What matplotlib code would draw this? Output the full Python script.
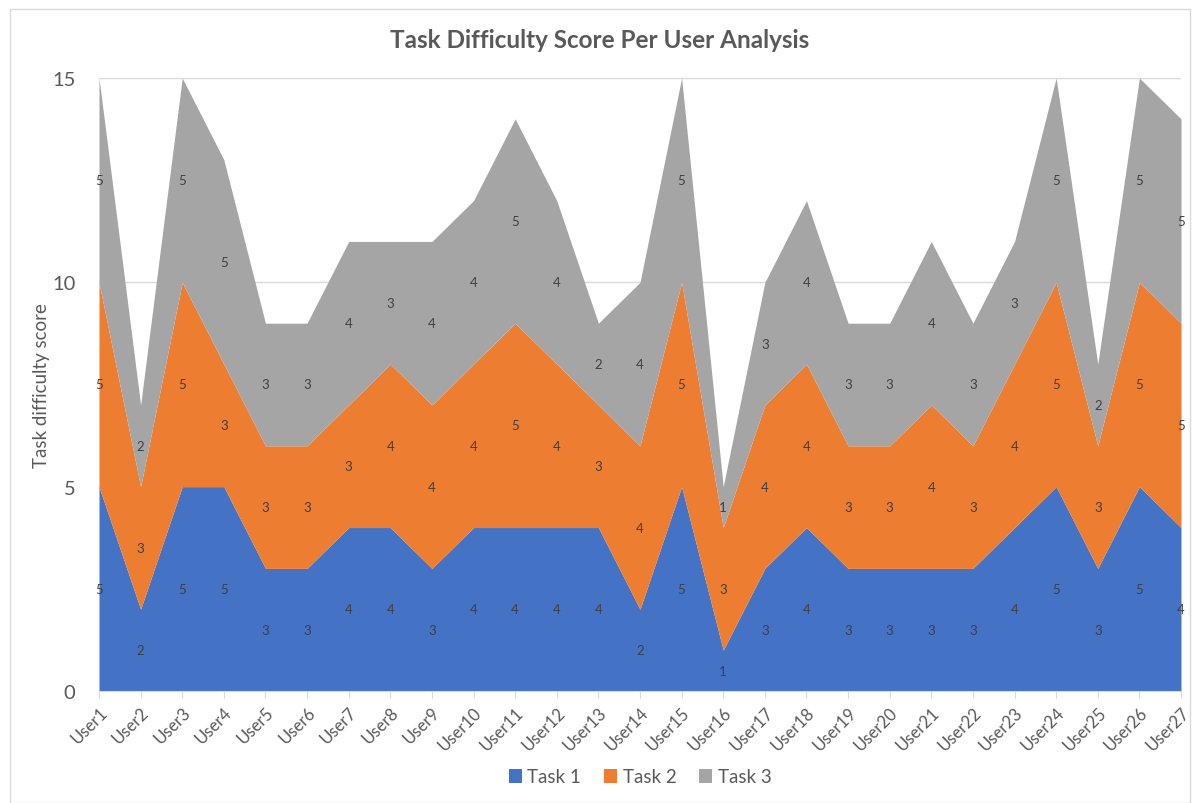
import matplotlib.pyplot as plt
import numpy as np
from matplotlib.patches import Rectangle

users = ["User%d" % i for i in range(1, 28)]
task1 = [5, 2, 5, 5, 3, 3, 4, 4, 3, 4, 4, 4, 4, 2, 5, 1, 3, 4, 3, 3, 3, 3, 4, 5, 3, 5, 4]
task2 = [5, 3, 5, 3, 3, 3, 3, 4, 4, 4, 5, 4, 3, 4, 5, 3, 4, 4, 3, 3, 4, 3, 4, 5, 3, 5, 5]
task3 = [5, 2, 5, 5, 3, 3, 4, 3, 4, 4, 5, 4, 2, 4, 5, 1, 3, 4, 3, 3, 4, 3, 3, 5, 2, 5, 5]

plt.rcParams['font.family'] = ['Lato', 'DejaVu Sans']
txt = '#595959'
colors = ['#4472C4', '#ED7D31', '#A5A5A5']

fig = plt.figure(figsize=(12, 8.04), dpi=100)
ax = fig.add_axes([99 / 1200, 1 - 692 / 804, 1082 / 1200, 613 / 804])

x = np.arange(len(users))
series = [task1, task2, task3]
names = ['Task 1', 'Task 2', 'Task 3']
base = np.zeros(len(users))
for vals, c, n in zip(series, colors, names):
    v = np.array(vals)
    ax.fill_between(x, base, base + v, color=c, label=n, lw=0, zorder=2)
    # labels sit in the middle of each band
    for xi, b, vi in zip(x, base, v):
        ax.text(xi, b + vi / 2, str(vi), ha='center', va='center', fontsize=9.5, color='#404040', zorder=3)
    base = base + v

ax.set_xlim(0, len(users) - 1)
ax.set_ylim(0, 15)
ax.set_yticks([0, 5, 10, 15])
ax.yaxis.grid(True, color='#D9D9D9', lw=1, zorder=0)
ax.set_axisbelow(True)
ax.set_xticks(x)
ax.set_xticklabels(users, rotation=45, ha='right', rotation_mode='anchor', fontsize=12, color=txt)
ax.tick_params(axis='y', length=0, labelsize=14.5, labelcolor=txt, pad=17)
ax.tick_params(axis='x', length=5, color='#D9D9D9', pad=4)
for s in ['top', 'right', 'left']:
    ax.spines[s].set_visible(False)
ax.spines['bottom'].set_color('#D9D9D9')
ax.set_ylabel('Task difficulty score', fontsize=13.5, color=txt)
ax.yaxis.set_label_coords((50 - 99) / 1082, 0.5)

fig.text(0.5, 1 - 40 / 804, 'Task Difficulty Score Per User Analysis', ha='center', va='center',
         fontsize=17.5, fontweight='bold', color=txt)
ax.legend(loc='center', bbox_to_anchor=(0.5, (778 - 692) / -613), ncol=3, frameon=False,
          fontsize=13.5, handlelength=0.7, handleheight=0.7, handletextpad=0.3, columnspacing=1.2,
          labelcolor=txt)

fig.patches.append(Rectangle((10 / 1200, 0), 1 - 20 / 1200, 1 - 10 / 804, transform=fig.transFigure,
                             fill=False, edgecolor='#D9D9D9', lw=1))

fig.savefig('out.png', dpi=100)
